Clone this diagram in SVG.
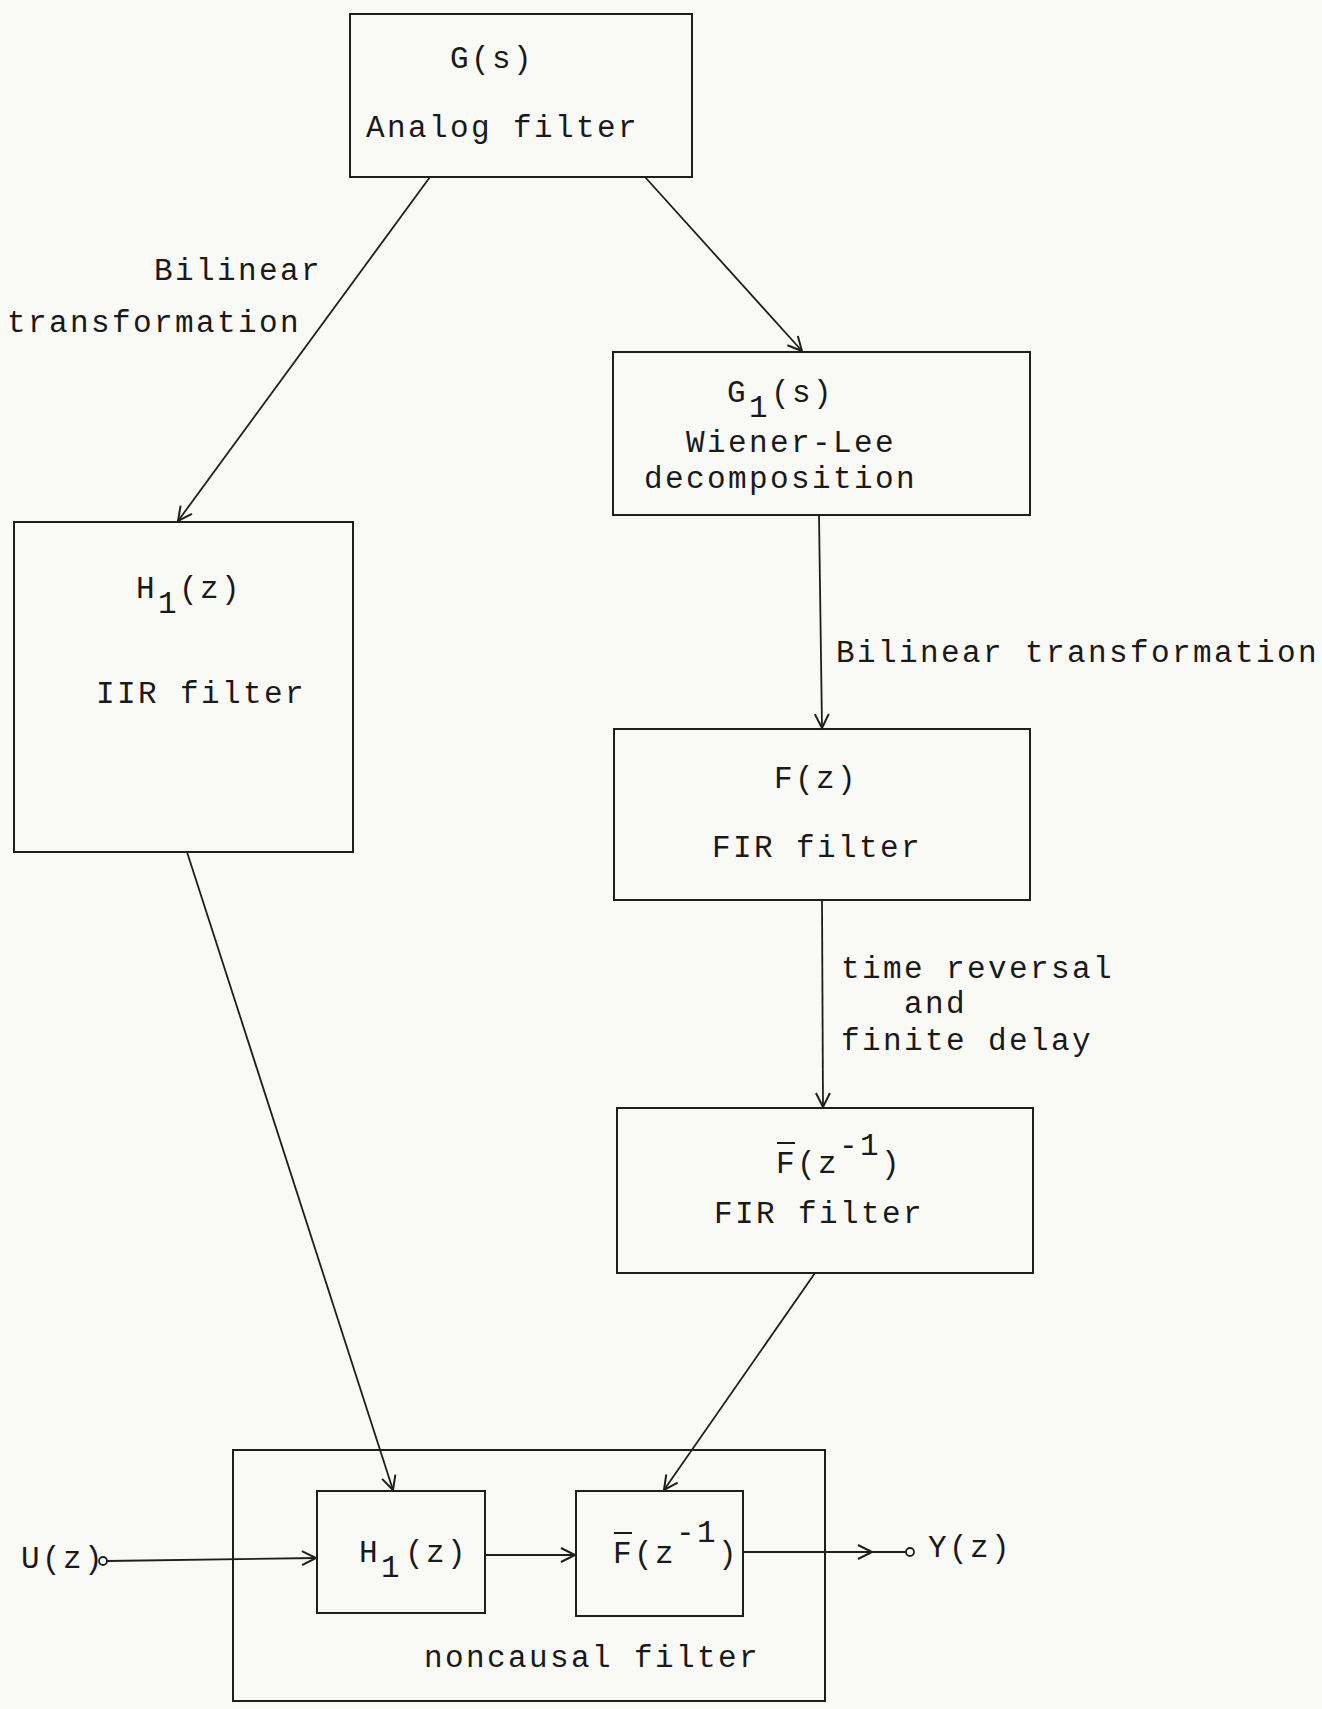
<svg xmlns="http://www.w3.org/2000/svg" width="1322" height="1709" viewBox="0 0 1322 1709">
  <style>
    .box { fill: none; stroke: #1e1e1e; stroke-width: 2; }
    .wire { fill: none; stroke: #1e1e1e; stroke-width: 1.8; }
    .t { font-family: "Liberation Mono", "Courier New", monospace; font-size: 31px; letter-spacing: 2.4px; fill: #1a1a1a; }
    .bar { stroke: #1a1a1a; stroke-width: 2; }
  </style>
  <defs>
    <marker id="vee" markerUnits="userSpaceOnUse" markerWidth="20" markerHeight="20" viewBox="-16 -10 20 20" refX="0" refY="0" orient="auto">
      <path d="M -14 -7 L 0 0 L -14 7" fill="none" stroke="#1e1e1e" stroke-width="2"/>
    </marker>
  </defs>

  <rect width="1322" height="1709" fill="#f9f9f6"/>

  <!-- analog prototype -->
  <g id="analog">
    <rect class="box" x="350" y="14" width="342" height="163"/>
    <text class="t" x="450" y="68">G(s)</text>
    <text class="t" x="366" y="137">Analog filter</text>
  </g>

  <!-- Wiener-Lee stage -->
  <g id="wiener-lee">
    <rect class="box" x="613" y="352" width="417" height="163"/>
    <text class="t" x="727" y="402">G</text>
    <text class="t" x="749" y="417">1</text>
    <text class="t" x="771" y="402">(s)</text>
    <text class="t" x="686" y="452">Wiener-Lee</text>
    <text class="t" x="644" y="488">decomposition</text>
  </g>

  <!-- IIR branch -->
  <g id="iir">
    <rect class="box" x="14" y="522" width="339" height="330"/>
    <text class="t" x="136" y="598">H</text>
    <text class="t" x="158" y="613">1</text>
    <text class="t" x="179" y="598">(z)</text>
    <text class="t" x="96" y="703">IIR filter</text>
  </g>

  <!-- FIR stage -->
  <g id="fir">
    <rect class="box" x="614" y="729" width="416" height="171"/>
    <text class="t" x="774" y="788">F(z)</text>
    <text class="t" x="712" y="857">FIR filter</text>
  </g>

  <!-- time-reversed FIR stage -->
  <g id="fir-reversed">
    <rect class="box" x="617" y="1108" width="416" height="165"/>
    <line class="bar" x1="777" y1="1143" x2="795" y2="1143"/>
    <text class="t" x="776" y="1173">F(z</text>
    <text class="t" x="839" y="1155">-1</text>
    <text class="t" x="881" y="1173">)</text>
    <text class="t" x="714" y="1223">FIR filter</text>
  </g>

  <!-- noncausal filter assembly -->
  <g id="noncausal">
    <rect class="box" x="233" y="1450" width="592" height="251"/>
    <text class="t" x="424" y="1667">noncausal filter</text>
  </g>
  <g id="h1-block">
    <rect class="box" x="317" y="1491" width="168" height="122"/>
    <text class="t" x="359" y="1562">H</text>
    <text class="t" x="381" y="1577">1</text>
    <text class="t" x="405" y="1562">(z)</text>
  </g>
  <g id="fbar-block">
    <rect class="box" x="576" y="1491" width="167" height="125"/>
    <line class="bar" x1="614" y1="1533" x2="632" y2="1533"/>
    <text class="t" x="613" y="1563">F</text>
    <text class="t" x="634" y="1563">(z</text>
    <text class="t" x="676" y="1542">-1</text>
    <text class="t" x="718" y="1563">)</text>
  </g>

  <!-- terminals -->
  <g id="input">
    <text class="t" x="21" y="1568">U(z)</text>
    <circle cx="103" cy="1561" r="4" fill="#f9f9f6" stroke="#1e1e1e" stroke-width="1.8"/>
  </g>
  <g id="output">
    <circle cx="910" cy="1552" r="4" fill="#f9f9f6" stroke="#1e1e1e" stroke-width="1.8"/>
    <text class="t" x="928" y="1557">Y(z)</text>
  </g>

  <!-- edge labels -->
  <g id="labels">
    <text class="t" x="154" y="280">Bilinear</text>
    <text class="t" x="7" y="332">transformation</text>
    <text class="t" x="836" y="662">Bilinear transformation</text>
    <text class="t" x="841" y="978">time reversal</text>
    <text class="t" x="904" y="1013">and</text>
    <text class="t" x="841" y="1050">finite delay</text>
  </g>

  <!-- connectors -->
  <g id="connectors">
    <line class="wire" x1="430" y1="177" x2="178" y2="521" marker-end="url(#vee)"/>
    <line class="wire" x1="645" y1="177" x2="802" y2="351" marker-end="url(#vee)"/>
    <line class="wire" x1="819" y1="515" x2="822" y2="728" marker-end="url(#vee)"/>
    <line class="wire" x1="822" y1="900" x2="823" y2="1107" marker-end="url(#vee)"/>
    <line class="wire" x1="187" y1="852" x2="393" y2="1490" marker-end="url(#vee)"/>
    <line class="wire" x1="815" y1="1273" x2="664" y2="1490" marker-end="url(#vee)"/>
    <line class="wire" x1="107" y1="1561" x2="316" y2="1558" marker-end="url(#vee)"/>
    <line class="wire" x1="485" y1="1555" x2="575" y2="1555" marker-end="url(#vee)"/>
    <line class="wire" x1="743" y1="1552" x2="872" y2="1552" marker-end="url(#vee)"/>
    <line class="wire" x1="872" y1="1552" x2="906" y2="1552"/>
  </g>
</svg>
